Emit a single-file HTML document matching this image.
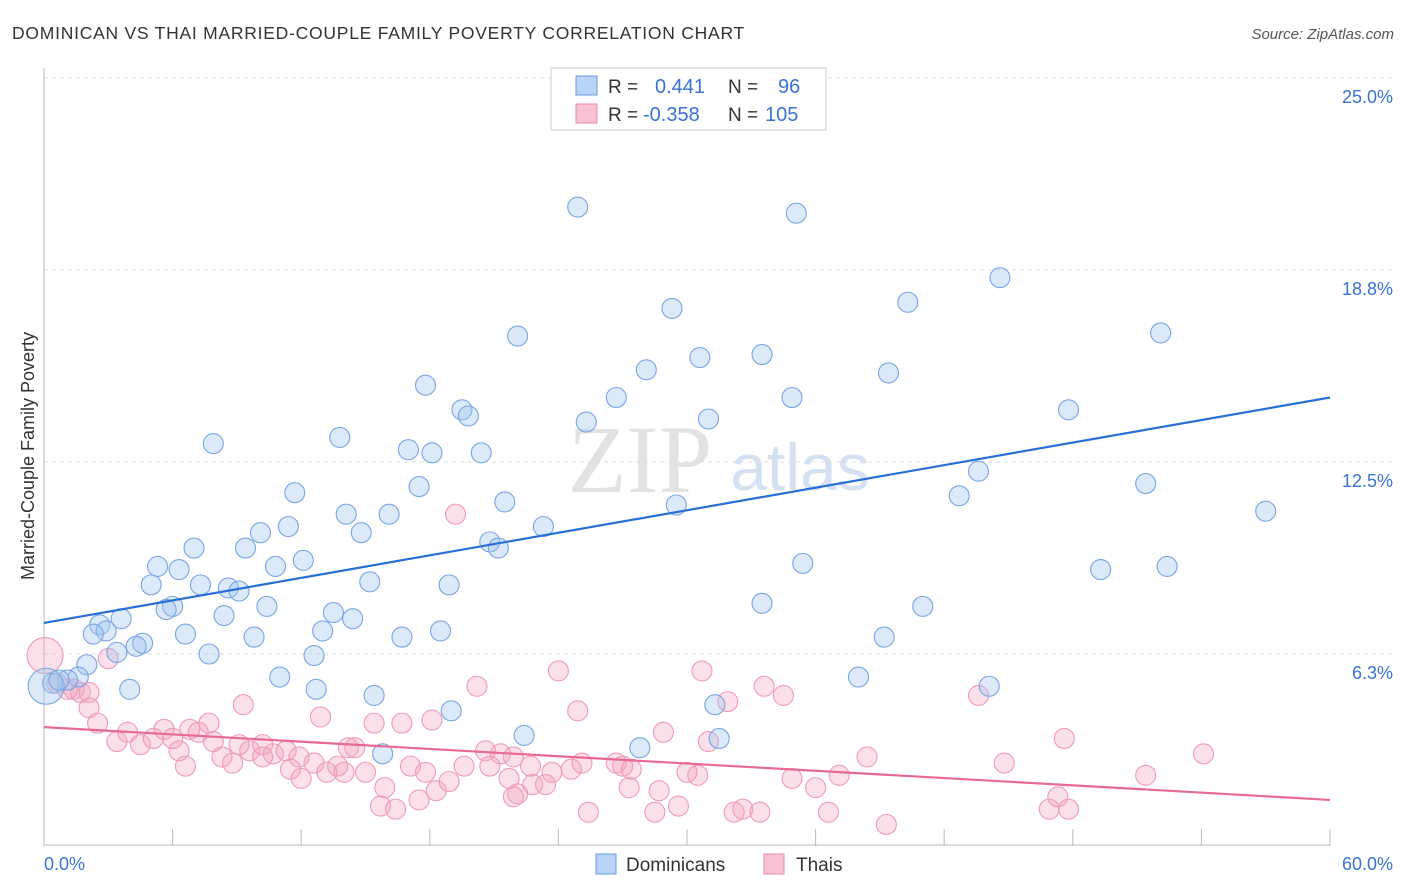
<!DOCTYPE html>
<html><head><meta charset="utf-8"><style>
body{margin:0;background:#fff;font-family:"Liberation Sans",sans-serif}
svg{display:block}
</style></head><body>
<svg id="c" width="1406" height="892" xmlns="http://www.w3.org/2000/svg">
<text x="12" y="39" font-size="17.5" fill="#333" letter-spacing="0.75">DOMINICAN VS THAI MARRIED-COUPLE FAMILY POVERTY CORRELATION CHART</text>
<text x="1394" y="39" font-size="15" fill="#555" font-style="italic" text-anchor="end">Source: ZipAtlas.com</text>
<text x="640" y="492" font-size="96" fill="#e2e2e2" font-family="Liberation Serif,serif" text-anchor="middle">ZIP</text>
<text x="800" y="490" font-size="66" fill="#d3e1f3" text-anchor="middle">atlas</text>
<text transform="translate(34,456) rotate(-90)" font-size="18" fill="#333" text-anchor="middle">Married-Couple Family Poverty</text>
<g id="grid"></g><g id="pts"></g><g id="trend"></g>
<g>
<rect x="551" y="68" width="275" height="62" fill="#fff" stroke="#ccc"/>
<rect x="576" y="76" width="21" height="19" fill="#b8d3f5" stroke="#6a9be0"/>
<rect x="576" y="104" width="21" height="19" fill="#f7c2d3" stroke="#e98aa8"/>
<text x="608" y="93" font-size="19" fill="#333">R =</text>
<text x="655" y="93" font-size="20" fill="#3a73d4">0.441</text>
<text x="728" y="93" font-size="19" fill="#333">N =</text>
<text x="778" y="93" font-size="20" fill="#3a73d4">96</text>
<text x="608" y="121" font-size="19" fill="#333">R =</text>
<text x="643" y="121" font-size="20" fill="#3a73d4">-0.358</text>
<text x="728" y="121" font-size="19" fill="#333">N =</text>
<text x="765" y="121" font-size="20" fill="#3a73d4">105</text>
</g>
<g>
<rect x="596" y="854" width="20" height="20" fill="#b8d3f5" stroke="#6a9be0"/>
<text x="626" y="871" font-size="19" fill="#333">Dominicans</text>
<rect x="764" y="854" width="20" height="20" fill="#f7c2d3" stroke="#e98aa8"/>
<text x="796" y="871" font-size="19" fill="#333">Thais</text>
</g>
</svg>
<script>
const xTicks=[0,6,12,18,24,30,36,42,48,54,60];
const yTicks=[6.25,12.5,18.75,25];
const yTickLabels=["6.3%","12.5%","18.8%","25.0%"];
const xEndLabels=["0.0%","60.0%"];
const blueX=[24.9,35.1,44.6,40.3,29.3,22.1,52.1,30.6,33.5,28.1,39.4,17.8,26.7,34.9,19.5,19.8,47.8,31.0,25.3,13.8,7.9,17.0,18.1,20.4,43.6,17.5,11.7,42.7,51.4,21.5,29.5,14.1,16.1,57.0,11.4,10.1,14.8,23.3,20.8,21.2,7.0,9.4,5.3,6.3,10.8,12.1,35.4,49.3,52.4,5.0,7.3,8.6,9.1,15.2,18.9,6.0,5.7,10.4,13.5,14.4,33.5,41.0,8.4,3.6,2.6,2.9,2.3,13.0,18.5,6.6,9.8,16.7,39.2,4.6,4.3,3.4,7.7,12.6,2.0,1.6,1.1,11.0,38.0,4.0,12.7,44.1,15.4,31.3,19.0,22.4,31.5,27.8,15.8,0.4,0.1,0.7];
const blueY=[20.8,20.6,18.5,17.7,17.5,16.6,16.7,15.9,16.0,15.5,15.4,15.0,14.6,14.6,14.2,14.0,14.2,13.9,13.8,13.3,13.1,12.9,12.8,12.8,12.2,11.7,11.5,11.4,11.8,11.2,11.1,10.8,10.8,10.9,10.4,10.2,10.2,10.4,9.9,9.7,9.7,9.7,9.1,9.0,9.1,9.3,9.2,9.0,9.1,8.5,8.5,8.4,8.3,8.6,8.5,7.8,7.7,7.8,7.6,7.4,7.9,7.8,7.5,7.4,7.2,7.0,6.9,7.0,7.0,6.9,6.8,6.8,6.8,6.6,6.5,6.3,6.25,6.2,5.9,5.5,5.4,5.5,5.5,5.1,5.1,5.2,4.9,4.6,4.4,3.6,3.5,3.2,3.0,5.3,5.2,5.4];
const blueSize=[];blueX.forEach((v,i)=>blueSize.push(i===94?18:10));
const pinkX=[19.2,0.05,3.0,24.0,30.7,20.2,33.6,0.6,1.7,1.1,1.4,2.1,9.3,24.9,31.9,34.5,43.6,2.1,12.9,2.5,7.7,3.4,3.9,4.5,5.1,5.6,6.0,6.8,7.2,7.9,9.1,9.6,10.2,10.7,11.3,11.9,15.4,16.7,18.1,28.9,31.0,47.6,14.2,14.5,20.6,21.3,21.9,6.3,8.3,8.8,6.6,10.2,11.5,12.0,12.6,13.2,13.7,14.0,15.0,17.1,17.8,19.6,20.8,22.7,23.7,24.6,25.1,26.7,27.0,27.4,30.0,30.5,34.9,37.1,38.4,44.8,51.4,54.1,15.9,18.3,18.9,21.7,22.1,22.8,23.4,27.3,28.7,15.7,16.4,17.5,21.9,25.4,28.5,29.6,32.2,32.6,33.4,36.0,36.6,39.3,47.3,46.9,47.8];
const pinkY=[10.8,6.2,6.1,5.7,5.7,5.2,5.2,5.3,5.0,5.1,5.1,5.0,4.6,4.4,4.7,4.9,4.9,4.5,4.2,4.0,4.0,3.4,3.7,3.3,3.5,3.8,3.5,3.8,3.7,3.4,3.3,3.1,3.3,3.0,3.1,2.9,4.0,4.0,4.1,3.7,3.4,3.5,3.2,3.2,3.1,3.0,2.9,3.1,2.9,2.7,2.6,2.9,2.5,2.2,2.7,2.4,2.6,2.4,2.4,2.6,2.4,2.6,2.6,2.6,2.4,2.5,2.7,2.7,2.6,2.5,2.4,2.3,2.2,2.3,2.9,2.7,2.3,3.0,1.9,1.8,2.1,2.2,1.7,2.0,2.0,1.9,1.8,1.3,1.2,1.5,1.6,1.1,1.1,1.3,1.1,1.2,1.1,1.9,1.1,0.7,1.6,1.2,1.2];
const pinkSize=[];pinkX.forEach((v,i)=>pinkSize.push(i===1?18:10));
const blueTrend=[7.26,14.6];
const pinkTrend=[3.87,1.50];
const X=v=>44+v/60*1286, Y=v=>846-v/6.25*192;
const NS='http://www.w3.org/2000/svg';
function mk(tag,a,parent){const e=document.createElementNS(NS,tag);for(const k in a)e.setAttribute(k,a[k]);document.getElementById(parent).appendChild(e);return e;}
yTicks.forEach((t,i)=>{
 const l=mk('line',{x1:44,x2:1394,y1:Y(t),y2:Y(t),stroke:'#ddd','stroke-dasharray':'4,4'},'grid');
 
 
 const tx=mk('text',{x:1393,y:Y(t)+25,'font-size':18,fill:'#3a73d4','text-anchor':'end'},'grid');tx.textContent=yTickLabels[i];
 
 
});
const ax=mk('line',{x1:44,x2:44,y1:68,y2:846,stroke:'#bbb'},'grid');


const bx=mk('line',{x1:44,x2:1330,y1:845,y2:845,stroke:'#bbb'},'grid');


xTicks.forEach(t=>{const l=mk('line',{x1:X(t),x2:X(t),y1:829,y2:846,stroke:'#bbb'},'grid');
 
 });
const xl0=mk('text',{x:44,y:870,'font-size':18,fill:'#3a73d4'},'grid');xl0.textContent=xEndLabels[0];


const xl1=mk('text',{x:1393,y:870,'font-size':18,fill:'#3a73d4','text-anchor':'end'},'grid');xl1.textContent=xEndLabels[1];


pinkX.forEach((v,i)=>{const c=mk('circle',{cx:X(v),cy:Y(pinkY[i]),r:pinkSize[i],fill:'rgba(244,160,188,0.33)',stroke:'#ef9ab7','stroke-width':1.1},'pts');
 
 });
blueX.forEach((v,i)=>{const c=mk('circle',{cx:X(v),cy:Y(blueY[i]),r:blueSize[i],fill:'rgba(160,196,240,0.38)',stroke:'#78a5e3','stroke-width':1.1},'pts');
 
 });
const bt=mk('line',{x1:X(0),x2:X(60),y1:Y(blueTrend[0]),y2:Y(blueTrend[1]),stroke:'#2a6fd6','stroke-width':2.2},'trend');


const pt=mk('line',{x1:X(0),x2:X(60),y1:Y(pinkTrend[0]),y2:Y(pinkTrend[1]),stroke:'#e86a93','stroke-width':2.2},'trend');


</script>
</body></html>
